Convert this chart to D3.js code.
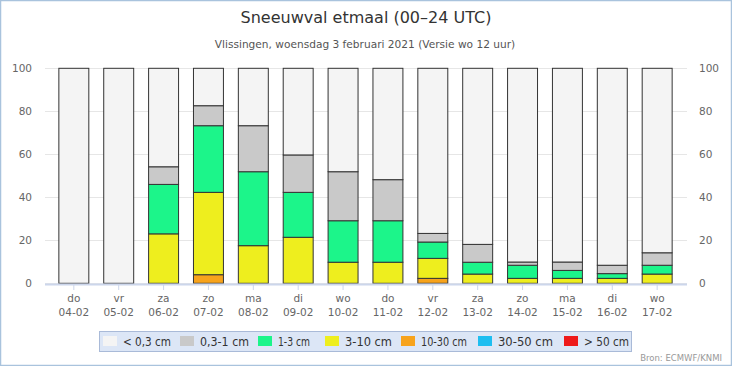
<!DOCTYPE html>
<html><head><meta charset="utf-8">
<script src="https://cdn.jsdelivr.net/npm/d3@7"></script>
<style>
html,body{margin:0;padding:0;background:#fff;}
svg{display:block;font-family:"DejaVu Sans",Verdana,sans-serif;}
</style></head>
<body>
<svg id="chart" width="732" height="366"></svg>
<script>
const days = ["do","vr","za","zo","ma","di","wo","do","vr","za","zo","ma","di","wo"];
const dates = ["04-02","05-02","06-02","07-02","08-02","09-02","10-02","11-02","12-02","13-02","14-02","15-02","16-02","17-02"];
const yTicks = [0,20,40,60,80,100];
const seriesNames = ["< 0,3 cm","0,3-1 cm","1-3 cm","3-10 cm","10-30 cm","30-50 cm","> 50 cm"];
const seriesColors = ["#f4f4f4","#c9c9c9","#1cf58a","#eeee1e","#f7a31c","#1ebef0","#ee1a1a"];
// values per class (percent), stacked bottom-up from largest class
const sGt50   = [0,0,0,0,0,0,0,0,0,0,0,0,0,0];
const s30to50 = [0,0,0,0,0,0,0,0,0,0,0,0,0,0];
const s10to30 = [0,0,0,4,0,0,0,0,2.3,0,0,0,0,0];
const s3to10  = [0,0,23,38.3,17.5,21.4,9.8,9.8,9.3,4.3,2.3,2.3,2.3,4.3];
const s1to3   = [0,0,23,31,34.4,20.9,19.3,19.3,7.6,5.5,6.1,3.7,2.2,4.1];
const s03to1  = [0,0,8.2,9.3,21.4,17.4,22.8,19.1,4,8.3,1.5,3.9,3.9,5.8];
const sLt03   = [100,100,45.8,17.4,26.7,40.3,48.1,51.8,76.8,81.9,90.1,90.1,91.6,85.8];

const stackOrder = [sGt50, s30to50, s10to30, s3to10, s1to3, s03to1, sLt03];
const stackColors = [seriesColors[6],seriesColors[5],seriesColors[4],seriesColors[3],seriesColors[2],seriesColors[1],seriesColors[0]];

const svg = d3.select("#chart");
svg.append("rect").attr("x",0.5).attr("y",0.5).attr("width",731).attr("height",365)
  .attr("fill","#fff").attr("stroke","#a9c3dd").attr("stroke-width",1.5);

svg.append("text").attr("x",366).attr("y",23).attr("text-anchor","middle")
  .attr("font-size",16).attr("fill","#333").text("Sneeuwval etmaal (00–24 UTC)");
svg.append("text").attr("x",365).attr("y",48).attr("text-anchor","middle")
  .attr("font-size",10.6).attr("fill","#555").text("Vlissingen, woensdag 3 februari 2021 (Versie wo 12 uur)");

const x = d3.scaleBand().domain(d3.range(days.length)).range([51.4,679.6]).paddingInner(0.31).paddingOuter(0.155);
const y = d3.scaleLinear().domain([0,100]).range([283.3,68.3]);

const grid = svg.append("g");
yTicks.forEach(t=>{
  grid.append("line").attr("x1",45).attr("x2",687).attr("y1",Math.round(y(t))+0.5).attr("y2",Math.round(y(t))+0.5)
    .attr("stroke","#e6e6e6").attr("stroke-width",1);
});

const yl = d3.axisLeft(y).tickValues(yTicks).tickSize(0).tickPadding(0);
const gl = svg.append("g").attr("transform","translate(32,0)").call(yl);
gl.select(".domain").remove();
gl.selectAll("text").attr("font-size",10.5).attr("fill","#666").attr("font-family","DejaVu Sans, sans-serif").attr("dy","0.35em");
const yr = d3.axisRight(y).tickValues(yTicks).tickSize(0).tickPadding(0);
const gr = svg.append("g").attr("transform","translate(699,0)").call(yr);
gr.select(".domain").remove();
gr.selectAll("text").attr("font-size",10.5).attr("fill","#666").attr("font-family","DejaVu Sans, sans-serif").attr("dy","0.35em");

const bars = svg.append("g");
days.forEach((d,i)=>{
  let cum = 0;
  stackOrder.forEach((s,k)=>{
    const v = s[i];
    if (v<=0) return;
    const y0 = y(cum), y1 = y(cum+v);
    bars.append("rect").attr("x",x(i)+0.5).attr("y",y1).attr("width",x.bandwidth()-1).attr("height",y0-y1)
      .attr("fill",stackColors[k]).attr("stroke","#333").attr("stroke-width",1);
    cum += v;
  });
});

svg.append("line").attr("x1",45).attr("x2",687).attr("y1",284.5).attr("y2",284.5).attr("stroke","#ccd6eb").attr("stroke-width",2);
const xa = d3.axisBottom(x).tickSize(5).tickFormat(()=>"" );
const gx = svg.append("g").attr("transform","translate(0,285)").call(xa);
gx.select(".domain").remove();
gx.selectAll("line").attr("stroke","#ccd6eb");
const lab = svg.append("g");
days.forEach((d,i)=>{
  const cx = x(i)+x.bandwidth()/2;
  lab.append("text").attr("x",cx).attr("y",302).attr("text-anchor","middle").attr("font-size",10.5).attr("fill","#666").text(d);
  lab.append("text").attr("x",cx).attr("y",316).attr("text-anchor","middle").attr("font-size",10.5).attr("fill","#666").text(dates[i]);
});

const lg = svg.append("g");
lg.append("rect").attr("x",99.5).attr("y",331.5).attr("width",532).attr("height",20)
  .attr("fill","#dce6f6").attr("stroke","#a9bad8");
const legX = [103,180,258,325,401,478,564];
const legW = [48,49,32,47,46,55,45];
seriesNames.forEach((n,i)=>{
  lg.append("rect").attr("x",legX[i]).attr("y",336).attr("width",14).attr("height",10).attr("fill",seriesColors[i]);
  lg.append("text").attr("x",legX[i]+20).attr("y",345.5).attr("font-size",11.5).attr("fill","#333")
    .attr("textLength",legW[i]).attr("lengthAdjust","spacingAndGlyphs").text(n);
});

svg.append("text").attr("x",722).attr("y",361).attr("text-anchor","end").attr("font-size",8.5).attr("fill","#999").text("Bron: ECMWF/KNMI");
</script>
</body></html>
